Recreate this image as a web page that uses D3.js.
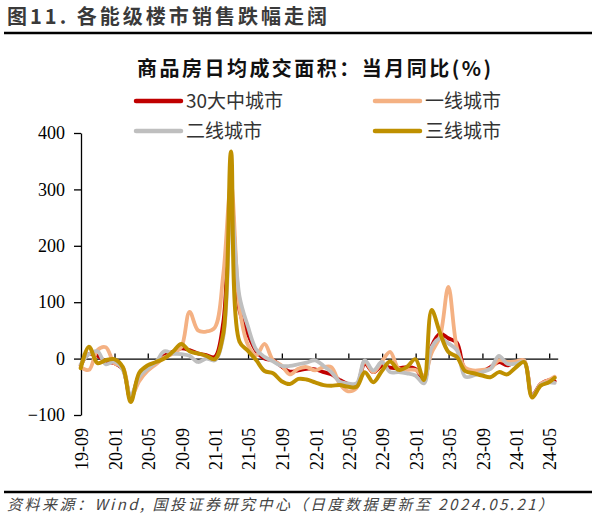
<!DOCTYPE html>
<html>
<head>
<meta charset="utf-8">
<script src="https://cdn.jsdelivr.net/npm/d3@7"></script>
<style>
    body { margin: 0; background: #fff; }
    #chart { width: 595px; height: 518px; }
</style>
</head>
<body>
<div id="chart"></div>
<script>
// monthly data, Wind dates each value at month end; last month is partial
const months = [
    "2019-08","2019-09","2019-10","2019-11","2019-12",
    "2020-01","2020-02","2020-03","2020-04","2020-05","2020-06","2020-07","2020-08","2020-09","2020-10","2020-11","2020-12",
    "2021-01","2021-02","2021-03","2021-04","2021-05","2021-06","2021-07","2021-08","2021-09","2021-10","2021-11","2021-12",
    "2022-01","2022-02","2022-03","2022-04","2022-05","2022-06","2022-07","2022-08","2022-09","2022-10","2022-11","2022-12",
    "2023-01","2023-02","2023-03","2023-04","2023-05","2023-06","2023-07","2023-08","2023-09","2023-10","2023-11","2023-12",
    "2024-01","2024-02","2024-03","2024-04","2024-05"
];
const lastUpdate = "2024-05-21";

const city30 = [-12, 8, 5, -5, -8, -18, -72, -30, -20, -8,
    5, 12, 18, 15, 9, 6, 3, 65, 295, 85,
    44, 13, 0, -3, -14, -23, -21, -18, -19, -24,
    -28, -38, -45, -47, -9, -24, -13, -16, -17, -15,
    -18, -38, 22, 44, 36, 28, -20, -24, -23, -15,
    -6, -12, -6, -5, -65, -45, -38, -40];
const tier1 = [-15, -20, 15, 20, -8, -15, -68, -40, -22, -10,
    2, 9, 20, 83, 50, 48, 55, 150, 310, 90,
    25, 6, 26, -3, -12, -28, -18, -15, -21, -15,
    -15, -45, -58, -52, -5, -24, -5, 12, -18, -20,
    -20, -30, 10, 40, 127, 20, -16, -21, -20, -18,
    -3, -6, -5, -3, -68, -45, -38, -32];
const tier2 = [-10, 8, 13, -10, -5, -20, -65, -32, -18, -6,
    13, 9, 8, 5, -6, 0, -3, 39, 268, 110,
    58, 16, 3, -5, -13, -13, -10, -7, -3, -13,
    -24, -41, -44, -44, -3, -21, -6, -24, -24, -26,
    -30, -44, 20, 36, 27, 15, -32, -30, -24, -18,
    5, -9, -9, -6, -66, -47, -42, -43];
const tier3 = [-17, 21, -8, -3, -1, -15, -77, -25, -12, -6,
    0, 12, 26, 13, 9, 5, -1, 45, 367, 30,
    14, -3, -22, -26, -40, -45, -36, -37, -42, -47,
    -48, -47, -50, -50, -24, -42, -22, -5, -20, -15,
    -1, -38, 86, 45, 12, 3, -22, -26, -30, -33,
    -24, -28, -16, -6, -69, -48, -42, -34];

const seriesNames = ["30大中城市", "一线城市", "二线城市", "三线城市"];
const seriesColors = ["#C00000", "#F4B183", "#BFBFBF", "#BF9000"];

const xTickLabels = ["19-09","20-01","20-05","20-09","21-01","21-05","21-09",
    "22-01","22-05","22-09","23-01","23-05","23-09","24-01","24-05"];
const yTicks = [-100, 0, 100, 200, 300, 400];

const figTitle = "图11. 各能级楼市销售跌幅走阔";
const chartTitle = "商品房日均成交面积：当月同比(%)";
const sourceNote = "资料来源：Wind, 国投证券研究中心（日度数据更新至 2024.05.21）";

document.addEventListener('DOMContentLoaded', function() {

    const cjk = '"Noto Sans CJK SC", "Noto Sans", sans-serif';
    const serif = '"Liberation Serif", "DejaVu Serif", serif';

    const parseMonth = d3.timeParse("%Y-%m");
    const parseDay = d3.timeParse("%Y-%m-%d");
    const parseTick = d3.timeParse("%y-%m");

    const dates = months.map((m, i) => i === months.length - 1
        ? parseDay(lastUpdate)
        : d3.timeDay.offset(d3.timeMonth.offset(parseMonth(m), 1), -1));

    const allSeries = [city30, tier1, tier2, tier3].map((vals, k) => ({
        name: seriesNames[k],
        color: seriesColors[k],
        values: vals.map((v, i) => ({ date: dates[i], value: v }))
    }));

    const svg = d3.select("#chart").append("svg")
        .attr("width", 595)
        .attr("height", 518);

    // header
    svg.append("text")
        .attr("x", 7).attr("y", 24)
        .attr("textLength", 320).attr("lengthAdjust", "spacing")
        .style("font-family", cjk).style("font-size", "20px").style("font-weight", "bold")
        .style("fill", "#3a3a3a")
        .text(figTitle);
    svg.append("line")
        .attr("x1", 4).attr("x2", 592).attr("y1", 33).attr("y2", 33)
        .attr("stroke", "#000").attr("stroke-width", 2.5);

    svg.append("text")
        .attr("x", 137).attr("y", 76)
        .attr("textLength", 354).attr("lengthAdjust", "spacing")
        .style("font-family", cjk).style("font-size", "20px").style("font-weight", "bold")
        .style("fill", "#111")
        .text(chartTitle);

    // legend, two columns
    const legend = svg.append("g");
    allSeries.forEach((s, k) => {
        const col = k % 2, row = Math.floor(k / 2);
        const lx = col === 0 ? 136 : 375;
        const ly = 101 + row * 30;
        legend.append("line")
            .attr("x1", lx).attr("x2", lx + 45).attr("y1", ly).attr("y2", ly)
            .attr("stroke", s.color).attr("stroke-width", 4.5).attr("stroke-linecap", "round");
        legend.append("text")
            .attr("x", lx + 50).attr("y", ly + 7)
            .style("font-family", cjk).style("font-size", "19px")
            .style("fill", "#333")
            .text(s.name);
    });

    // scales
    const xScale = d3.scaleTime()
        .domain([new Date(2019, 8, 1), new Date(2024, 5, 1)])
        .range([81, 557.7]);
    const yScale = d3.scaleLinear()
        .domain([-100, 400])
        .range([415, 133]);

    const yAxis = d3.axisLeft(yScale).tickValues(yTicks).tickSize(7).tickPadding(9).tickSizeOuter(0);
    const yg = svg.append("g")
        .attr("transform", "translate(81,0)")
        .call(yAxis);
    yg.selectAll("text").style("font-family", serif).style("font-size", "18px").style("fill", "#000");
    yg.selectAll("line, path").attr("stroke", "#000").attr("stroke-width", 1.3);

    const tickDates = xTickLabels.map(parseTick);
    const xAxis = d3.axisBottom(xScale).tickValues(tickDates).tickSize(-5).tickFormat("").tickSizeOuter(0);
    const xg = svg.append("g")
        .attr("transform", `translate(0,${yScale(0)})`)
        .call(xAxis);
    xg.selectAll("line, path").attr("stroke", "#000").attr("stroke-width", 1.3);

    // rotated month labels below the plot
    svg.append("g").selectAll("text")
        .data(tickDates)
        .join("text")
        .attr("transform", d => `translate(${xScale(d) + 1},428) rotate(-90)`)
        .attr("text-anchor", "end")
        .attr("dy", "0.35em")
        .style("font-family", serif).style("font-size", "18px").style("fill", "#000")
        .text((d, i) => xTickLabels[i]);

    const line = d3.line()
        .x(d => xScale(d.date))
        .y(d => yScale(d.value))
        .curve(d3.curveCatmullRom.alpha(0.5));

    svg.append("g").selectAll("path")
        .data(allSeries)
        .join("path")
        .attr("fill", "none")
        .attr("stroke", d => d.color)
        .attr("stroke-width", (d, i) => i === 3 ? 4 : 3.8)
        .attr("stroke-linejoin", "round")
        .attr("stroke-linecap", "round")
        .attr("d", d => line(d.values));

    // footer
    svg.append("line")
        .attr("x1", 4).attr("x2", 592).attr("y1", 492).attr("y2", 492)
        .attr("stroke", "#000").attr("stroke-width", 2.5);
    svg.append("text")
        .attr("x", 7).attr("y", 510)
        .attr("textLength", 546).attr("lengthAdjust", "spacing")
        .style("font-family", cjk).style("font-size", "15px").style("font-style", "italic")
        .style("fill", "#444")
        .text(sourceNote);
});
</script>
</body>
</html>
